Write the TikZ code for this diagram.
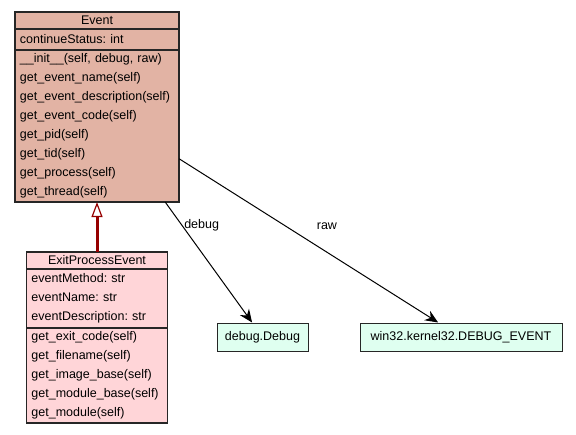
\documentclass[tikz,border=0pt]{standalone}
\usepackage{fontspec}
\setmainfont{Liberation Sans}
\usetikzlibrary{positioning,arrows.meta,fit}
\definecolor{evtfill}{RGB}{226,179,164}
\definecolor{subfill}{RGB}{255,213,216}
\definecolor{extfill}{RGB}{223,255,240}
\definecolor{inhcol}{RGB}{150,0,0}
\frenchspacing

\begin{document}
\begin{tikzpicture}[x=1bp, y=1bp,
    every node/.style={font=\fontsize{12.5bp}{19bp}\selectfont},
    ctitle/.style={draw=black!85, line width=1.2bp, outer sep=0pt, inner ysep=1bp, minimum height=17bp, align=center},
    cpart/.style={draw=black!85, line width=1.2bp, outer sep=0pt, inner xsep=5bp, inner ysep=2bp, align=left},
    extbox/.style={draw=black!85, line width=1bp, fill=extfill, minimum height=28bp, inner xsep=5bp},
    arrow/.style={-{Stealth[length=13bp, width=11bp]}, line width=1bp},
    inherit/.style={-{Triangle[open, length=15bp, width=11bp, line width=1.2bp]}, draw=inhcol, line width=3bp}
]
    \fill[white] (0,0) rectangle (576,-435);

    % Event class
    \node[ctitle, fill=evtfill, minimum width=164bp] (evtname) at (97,-20.5) {Event};
    \node[cpart, fill=evtfill, text width=154bp, minimum height=21bp, below=0pt of evtname] (evtattr) {continueStatus: int};
    \node[cpart, fill=evtfill, text width=154bp, minimum height=152bp, below=0pt of evtattr] (evtops) {\_\_init\_\_(self, debug, raw)\\get\_event\_name(self)\\get\_event\_description(self)\\get\_event\_code(self)\\get\_pid(self)\\get\_tid(self)\\get\_process(self)\\get\_thread(self)};
    \node[fit=(evtname)(evtops), inner sep=0pt] (evt) {};

    % ExitProcessEvent class
    \node[ctitle, fill=subfill, minimum width=141bp, below=50bp of evtops] (exitname) {ExitProcessEvent};
    \node[cpart, fill=subfill, text width=131bp, minimum height=59bp, below=0pt of exitname] (exitattr) {eventMethod: str\\eventName: str\\eventDescription: str};
    \node[cpart, fill=subfill, text width=131bp, minimum height=95bp, below=0pt of exitattr] (exitops) {get\_exit\_code(self)\\get\_filename(self)\\get\_image\_base(self)\\get\_module\_base(self)\\get\_module(self)};

    % Referenced types
    \node[extbox, minimum width=91bp] (dbg) at (262.5,-337) {debug.Debug};
    \node[extbox, minimum width=202bp, right=51bp of dbg] (dbgevt) {win32.kernel32.DEBUG\_EVENT};

    % Arrows
    \draw[inherit] (exitname) -- (evtops);
    \draw[arrow] (evt) -- node[pos=0.19, anchor=west, inner sep=1bp, xshift=1bp] (lbldebug) {debug} (dbg);
    \draw[arrow] (evt) -- node[pos=0.41, anchor=west, inner sep=1bp, xshift=30bp] (lblraw) {raw} (dbgevt);
\end{tikzpicture}
\end{document}
